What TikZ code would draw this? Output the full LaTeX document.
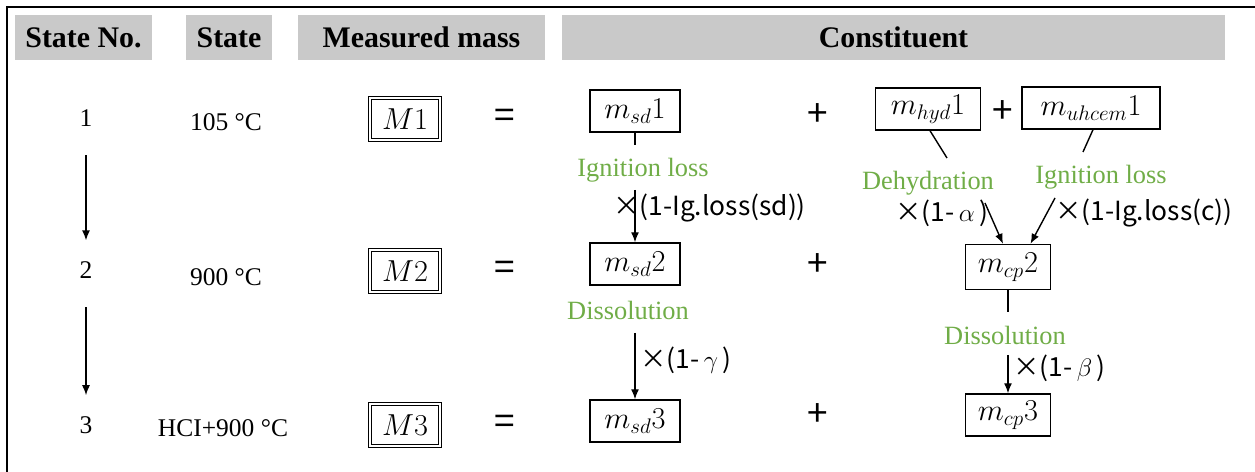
\documentclass[tikz,border=0pt]{standalone}
\usepackage{fontspec}
\setmainfont{Liberation Serif}
\newfontfamily\facfont{Noto Sans CJK JP}
\usepackage{amsmath}
\usetikzlibrary{arrows.meta,positioning,calc}
\definecolor{hdgray}{HTML}{C9C9C9}
\definecolor{stgreen}{HTML}{70AD47}
\tikzset{
  mshead/.style={fill=hdgray, minimum height=0.9cm, inner sep=0pt, font=\fontsize{17}{19}\selectfont\bfseries},
  msbox/.style={draw, line width=0.8pt, minimum height=0.84cm, inner sep=2pt, font=\fontsize{16.5}{18}\selectfont},
  msdbl/.style={draw, double, double distance=1.6pt, line width=0.6pt, minimum width=1.4cm, minimum height=0.84cm, font=\fontsize{16.5}{18}\selectfont},
  msstate/.style={font=\fontsize{14.5}{16}\selectfont},
  msproc/.style={text=stgreen, inner sep=1pt, font=\fontsize{15}{17}\selectfont},
  msfac/.style={anchor=west, inner sep=0pt, font=\facfont\fontsize{15}{17}\selectfont},
  msop/.style={font=\facfont\fontsize{21}{23}\selectfont},
  msarrow/.style={-{Latex[length=2mm, width=1.6mm]}, line width=0.8pt},
  msline/.style={line width=0.8pt},
}
\begin{document}
\begin{tikzpicture}
  \useasboundingbox (0,0) rectangle (25.1,9.44);
  % frame
  \coordinate (tl) at (0.14,9.30);
  \coordinate (tr) at (25.1,9.30);
  \coordinate (bl) at (0.14,0);
  \draw[line width=1.2pt] (tr) -- (tl) -- (bl);

  % header
  \node[mshead, minimum width=2.74cm] (hno) at (1.67,8.69) {State No.};
  \node[mshead, minimum width=1.72cm] (hstate) at (4.58,8.69) {State};
  \node[mshead, minimum width=4.94cm] (hmass) at (8.43,8.69) {Measured mass};
  \node[mshead, minimum width=13.26cm] (hcon) at (17.87,8.69) {Constituent};

  % states
  \node[msstate] (n1) at (1.72,7.08) {1};
  \node[msstate] (n2) at (1.72,4.04) {2};
  \node[msstate] (n3) at (1.72,0.94) {3};
  \node[msstate] (t1) at (4.52,7.00) {105 °C};
  \node[msstate] (t2) at (4.52,3.90) {900 °C};
  \node[msstate] (t3) at (4.46,0.88) {HCI+900 °C};
  \draw[msarrow, shorten <=0.45cm, shorten >=0.3cm] (n1) -- (n2);
  \draw[msarrow, shorten <=0.45cm, shorten >=0.3cm] (n2) -- (n3);

  % measured masses
  \node[msdbl] (M1) at (8.1,7.06) {$M1$};
  \node[msdbl] (M2) at (8.1,4.02) {$M2$};
  \node[msdbl] (M3) at (8.1,0.94) {$M3$};
  \node[msop] (eq1) at (10.1,7.06) {=};
  \node[msop] (eq2) at (10.1,4.02) {=};
  \node[msop] (eq3) at (10.1,0.94) {=};

  % constituents
  \node[msbox, minimum width=1.8cm] (sd1) at (12.7,7.22) {$m_{sd}1$};
  \node[msbox, minimum width=1.8cm] (sd2) at (12.7,4.16) {$m_{sd}2$};
  \node[msbox, minimum width=1.8cm] (sd3) at (12.7,1.02) {$m_{sd}3$};
  \node[msop] (pl1) at (16.36,7.14) {+};
  \node[msop] (pl2) at (16.36,4.14) {+};
  \node[msop] (pl3) at (16.36,1.14) {+};
  \node[msbox, minimum width=2.1cm] (hyd1) at (18.56,7.26) {$m_{hyd}1$};
  \node[msop] (pl4) at (20.06,7.2) {+};
  \node[msbox, minimum width=2.76cm] (uh1) at (21.82,7.28) {$m_{uhcem}1$};
  \node[msbox, minimum width=1.7cm, minimum height=0.9cm] (cp2) at (20.16,4.10) {$m_{cp}2$};
  \node[msbox, minimum width=1.7cm] (cp3) at (20.16,1.14) {$m_{cp}3$};

  % processes
  \node[msproc] (ig1) at (12.86,6.04) {Ignition loss};
  \node[msfac] (f1) at (12.26,5.28) {×(1-Ig.loss(sd))};
  \node[msproc] (dehy) at (18.56,5.78) {Dehydration};
  \node[msfac] (fa) at (17.9,5.18) {×(1-\,$\alpha$\,)};
  \node[msproc] (ig2) at (22.02,5.90) {Ignition loss};
  \node[msfac] (fc) at (21.1,5.18) {×(1-Ig.loss(c))};
  \node[msproc] (dis1) at (12.56,3.24) {Dissolution};
  \node[msfac] (fg) at (12.8,2.24) {×(1-\,$\gamma$\,)};
  \node[msproc] (dis2) at (20.1,2.74) {Dissolution};
  \node[msfac] (fb) at (20.26,2.08) {×(1-\,$\beta$\,)};

  % connectors
  \coordinate (sd1t) at (12.7,6.54);
  \coordinate (sd1a) at (12.7,5.64);
  \draw[msline] (sd1) -- (sd1t);
  \draw[msarrow] (sd1a) -- (sd2);

  \coordinate (hyd1t) at (18.94,6.28);
  \coordinate (hyd1a) at (19.7,5.38);
  \draw[msline] ([xshift=0.04cm]hyd1.south) -- (hyd1t);
  \draw[msarrow] (hyd1a) -- ([xshift=-0.1cm]cp2.north);

  \coordinate (uh1t) at (21.66,6.40);
  \coordinate (uh1a) at (21.1,5.48);
  \draw[msline] ([xshift=0.04cm]uh1.south) -- (uh1t);
  \draw[msarrow] (uh1a) -- ([xshift=0.45cm]cp2.north);

  \coordinate (sd2a) at (12.7,2.78);
  \draw[msarrow] (sd2a) -- (sd3);

  \coordinate (cp2t) at (20.16,3.20);
  \coordinate (cp2a) at (20.16,2.34);
  \draw[msline] (cp2) -- (cp2t);
  \draw[msarrow] (cp2a) -- (cp3);
\end{tikzpicture}
\end{document}
